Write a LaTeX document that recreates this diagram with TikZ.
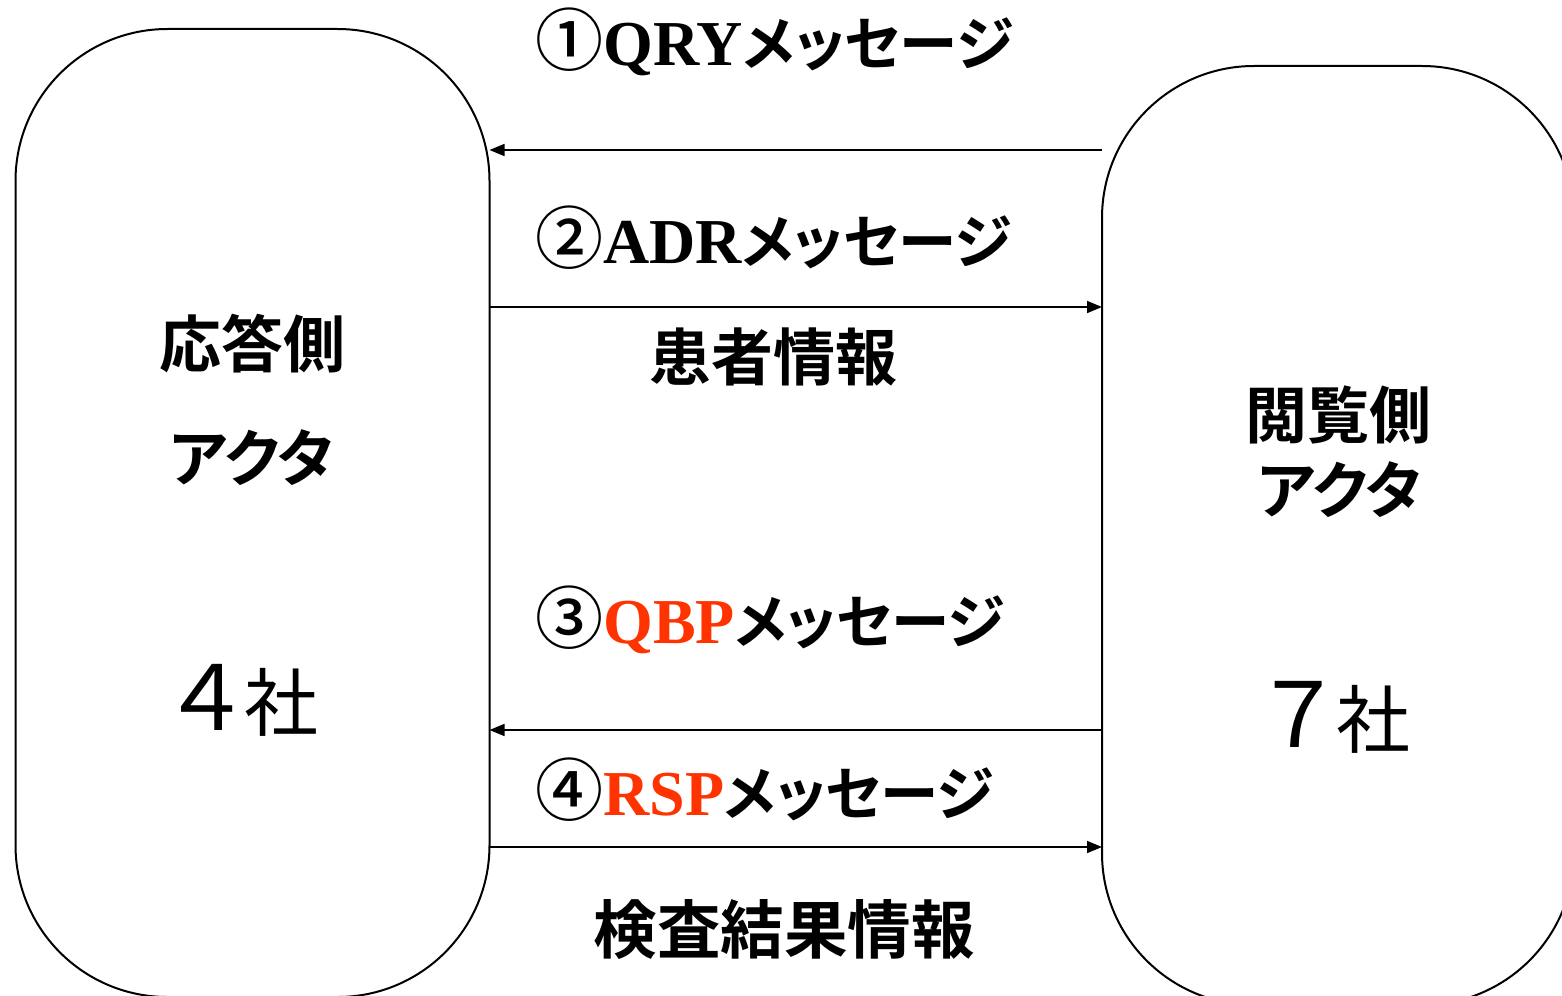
\documentclass[tikz,border=0pt]{standalone}
\usepackage{fontspec}
\newfontfamily\jpm{Noto Sans CJK JP}[UprightFont={* Medium}]
\newfontfamily\jpb{Noto Sans CJK JP}[UprightFont={* Bold}]
\newfontfamily\jpp{Noto Sans CJK JP}[UprightFont={* Bold},RawFeature=+palt]
\newfontfamily\jppr{Noto Sans CJK JP}[RawFeature=+palt]
\newfontfamily\tms{Liberation Serif}
\usetikzlibrary{arrows.meta}
\definecolor{msgred}{RGB}{255,51,0}
\tikzset{
  actor/.style={draw=black, line width=2pt, rounded corners=152pt, inner sep=0pt, outer sep=0pt},
  msg/.style={-{Triangle[length=15pt,width=12pt]}, line width=1.6pt},
  lbl/.style={inner sep=0pt, font=\fontsize{62}{70}\selectfont\jpb},
  kata/.style={inner sep=0pt, font=\fontsize{62}{70}\selectfont\jpp},
  cnt/.style={inner sep=0pt, font=\fontsize{74}{80}\selectfont\jppr},
  mtxt/.style={inner sep=0pt, anchor=west, font=\fontsize{58.5}{70}\selectfont\jpp}
}
\newcommand{\lat}[1]{{\fontsize{64}{70}\selectfont\tms\bfseries #1}}
\newcommand{\circd}[1]{{\fontsize{68}{70}\selectfont\jpm #1}}
\newcommand{\bigdig}[1]{{\fontsize{90}{80}\selectfont #1}}
\begin{document}
\begin{tikzpicture}[x=1pt,y=-1pt]
\useasboundingbox (0,0) rectangle (1562,995);
\clip (0,0) rectangle (1562,995);
\fill[white] (0,0) rectangle (1562,995);
% actors
\node[actor, minimum width=474pt, minimum height=968pt] (L) at (252.5,513) {};
\node[actor, minimum width=472pt, minimum height=939pt] (R) at (1338,535.5) {};
% actor texts
\node[lbl] (l1) at (252,344) {応答側};
\node[kata] (l2) at (252,458) {アクタ};
\node[cnt] (l3) at (246,700) {\bigdig{４}\kern3pt 社};
\node[lbl] (r1) at (1338,415) {閲覧側};
\node[kata] (r2) at (1340,490) {アクタ};
\node[cnt] (r3) at (1338,717) {\bigdig{７}\kern3pt 社};
% arrows
\draw[msg] (R.west |- 0,150) -- (L.east |- 0,150);
\draw[msg] (L.east |- 0,307) -- (R.west |- 0,307);
\draw[msg] (R.west |- 0,730) -- (L.east |- 0,730);
\draw[msg] (L.east |- 0,847) -- (R.west |- 0,847);
% message labels
\node[mtxt] (m1) at (535,42) {\circd{①}\lat{QRY}メッセージ};
\node[mtxt] (m2) at (535,238) {\circd{②}\lat{ADR}メッセージ};
\node[lbl] (p1) at (773,357) {患者情報};
\node[mtxt] (m3) at (535,620) {\circd{③}\textcolor{msgred}{\lat{QBP}}メッセージ};
\node[mtxt] (m4) at (535,790) {\circd{④}\textcolor{msgred}{\lat{RSP}}メッセージ};
\node[inner sep=0pt, font=\fontsize{63.5}{70}\selectfont\jpb] (p2) at (784,930) {検査結果情報};
\end{tikzpicture}
\end{document}
